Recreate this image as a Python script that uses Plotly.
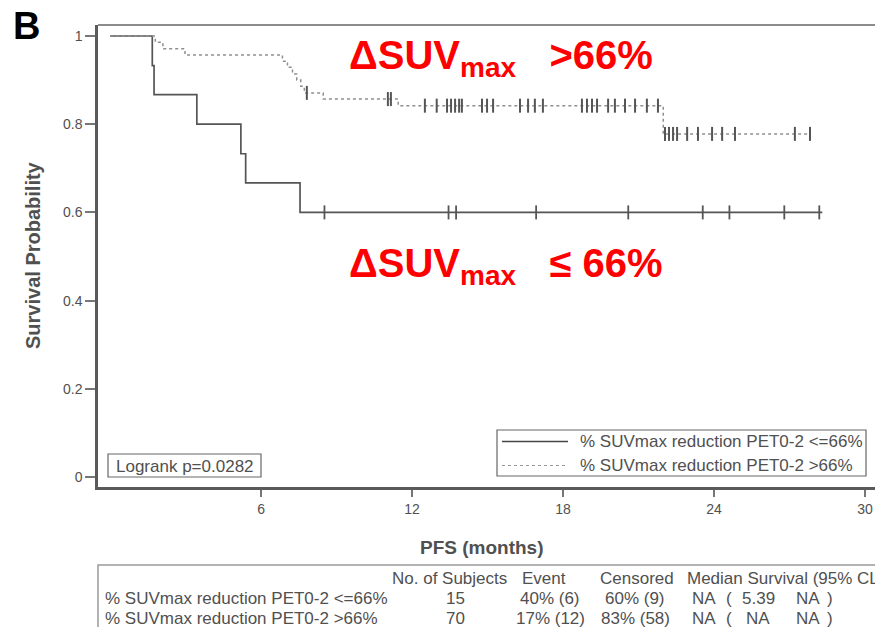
import numpy as np
import plotly.graph_objects as go

# ---------------- data ----------------
# Group 1: % SUVmax reduction PET0-2 <=66%  (solid)
low_event_t = [0.0, 1.68, 1.75, 3.45, 5.20, 5.39, 7.55]
low_event_s = [1.0, 0.933, 0.867, 0.800, 0.733, 0.667, 0.600]
low_end_t = 28.3
low_cens_t = [8.52, 13.45, 13.75, 16.93, 20.59, 23.55, 24.61, 26.79, 28.18]

# Group 2: % SUVmax reduction PET0-2 >66%  (dotted)
high_event_t = [0.0, 1.80, 2.10, 2.98, 6.85, 7.05, 7.25, 7.42, 7.58, 7.72,
                8.47, 11.45, 21.98]
high_event_s = [1.0, 0.986, 0.971, 0.957, 0.943, 0.929, 0.914, 0.900, 0.886,
                0.871, 0.857, 0.842, 0.778]
high_end_t = 27.85
high_cens_t = [7.82, 11.04, 11.16,
               12.51, 12.98, 13.39, 13.55, 13.71, 13.87, 13.98, 14.78, 14.98,
               15.22, 16.29, 16.61, 16.88, 17.20, 18.75, 18.95, 19.15, 19.35,
               19.79, 20.06, 20.46, 20.86, 21.33, 21.77,
               22.05, 22.21, 22.37, 22.53, 22.93, 23.36, 23.92, 24.32, 24.83,
               27.21, 27.81]

x_ticks = [6, 12, 18, 24, 30]
y_ticks = [0, 0.2, 0.4, 0.6, 0.8, 1]
y_tick_labels = ["0", "0.2", "0.4", "0.6", "0.8", "1"]

legend_labels = ["% SUVmax reduction PET0-2 <=66%", "% SUVmax reduction PET0-2 >66%"]
logrank_text = "Logrank p=0.0282"

table_header = ["No. of Subjects", "Event", "Censored", "Median Survival (95% CL"]
row_names = ["% SUVmax reduction PET0-2 <=66%", "% SUVmax reduction PET0-2 >66%"]
n_subjects = ["15", "70"]
events = ["40% (6)", "17% (12)"]
censored = ["60% (9)", "83% (58)"]
median = ["NA", "NA"]
ci_low = ["5.39", "NA"]
ci_high = ["NA", "NA"]


def step_value(times, surv, t):
    idx = np.searchsorted(np.array(times), t, side="right") - 1
    return [surv[i] for i in idx]


W, H = 875, 627
L, T, R = 98, 25, 0
B = H - 487
PW, PH = W - L - R, H - T - B


def px(xp):
    return (xp - L) / PW


def py(yp):
    return (H - B - yp) / PH


FONT = "Arial, Liberation Sans, sans-serif"
TXT = "#505050"
fig = go.Figure()

# curves
fig.add_trace(go.Scatter(
    x=low_event_t + [low_end_t], y=low_event_s + [low_event_s[-1]],
    mode="lines", line=dict(color="#555555", width=1.7, shape="hv"),
    showlegend=False, hoverinfo="skip"))
fig.add_trace(go.Scatter(
    x=high_event_t + [high_end_t], y=high_event_s + [high_event_s[-1]],
    mode="lines", line=dict(color="#8f8f8f", width=1.5, shape="hv", dash="dot"),
    showlegend=False, hoverinfo="skip"))
# censor marks
fig.add_trace(go.Scatter(
    x=low_cens_t, y=step_value(low_event_t, low_event_s, low_cens_t),
    mode="markers",
    marker=dict(symbol="line-ns-open", size=10, color="#555555",
                line=dict(color="#555555", width=1.8)),
    showlegend=False, hoverinfo="skip"))
fig.add_trace(go.Scatter(
    x=high_cens_t, y=step_value(high_event_t, high_event_s, high_cens_t),
    mode="markers",
    marker=dict(symbol="line-ns-open", size=10, color="#555555",
                line=dict(color="#555555", width=2)),
    showlegend=False, hoverinfo="skip"))

x0 = (98 - 110) / 25.17
x1 = (875 - 110) / 25.17
y0 = (477 - 487) / 441
y1 = (477 - 25) / 441

fig.update_xaxes(range=[x0, x1], tickvals=x_ticks, ticktext=[str(v) for v in x_ticks],
                 showgrid=False, zeroline=False, showline=True, linecolor="#5a5a5a",
                 linewidth=2.5, ticks="outside", ticklen=7, tickwidth=1.5, tickcolor="#777",
                 tickfont=dict(family=FONT, size=14, color=TXT), mirror=False)
fig.update_yaxes(range=[y0, y1], tickvals=y_ticks, ticktext=y_tick_labels,
                 showgrid=False, zeroline=False, showline=True, linecolor="#5a5a5a",
                 linewidth=2.5, ticks="outside", ticklen=10, tickwidth=1.5, tickcolor="#777",
                 tickfont=dict(family=FONT, size=14, color=TXT))

shapes = []
# top frame line
shapes.append(dict(type="line", xref="paper", yref="paper", x0=0, x1=1, y0=1, y1=1,
                   line=dict(color="#8c8c8c", width=2)))
# legend box
shapes.append(dict(type="rect", xref="paper", yref="paper", x0=px(497), x1=px(866),
                   y0=py(476), y1=py(430), line=dict(color="#666", width=1.2), fillcolor="white"))
shapes.append(dict(type="line", xref="paper", yref="paper", x0=px(502), x1=px(568),
                   y0=py(441.5), y1=py(441.5), line=dict(color="#444", width=1.4)))
shapes.append(dict(type="line", xref="paper", yref="paper", x0=px(502), x1=px(568),
                   y0=py(465.5), y1=py(465.5), line=dict(color="#999", width=1.2, dash="dot")))
# logrank box
shapes.append(dict(type="rect", xref="paper", yref="paper", x0=px(108), x1=px(261),
                   y0=py(477), y1=py(454), line=dict(color="#666", width=1.2)))
# table box
shapes.append(dict(type="rect", xref="paper", yref="paper", x0=px(98), x1=px(880),
                   y0=py(640), y1=py(565), line=dict(color="#999", width=1.5)))

ann = []
ann.append(dict(text="<b>B</b>", x=px(26), y=py(26), xref="paper", yref="paper",
                xanchor="center", yanchor="middle", showarrow=False,
                font=dict(family=FONT, size=38, color="black")))
ann.append(dict(text="<b>\u0394SUV<sub>max</sub>\u00a0\u00a0\u00a0&gt;66%</b>", x=px(347), y=py(58),
                xref="paper", yref="paper", xanchor="left", yanchor="middle", showarrow=False,
                font=dict(family=FONT, size=40, color="#ff0000")))
ann.append(dict(text="<b>\u0394SUV<sub>max</sub>\u00a0\u00a0\u00a0\u2264 66%</b>", x=px(347), y=py(266),
                xref="paper", yref="paper", xanchor="left", yanchor="middle", showarrow=False,
                font=dict(family=FONT, size=40, color="#ff0000")))
ann.append(dict(text="<b>Survival Probability</b>", x=px(33), y=py(255), xref="paper",
                yref="paper", textangle=-90, showarrow=False, xanchor="center", yanchor="middle",
                font=dict(family=FONT, size=20, color=TXT)))
ann.append(dict(text="<b>PFS (months)</b>", x=px(482), y=py(547), xref="paper", yref="paper",
                showarrow=False, xanchor="center", yanchor="middle",
                font=dict(family=FONT, size=19, color=TXT)))

SMALL = 17
for lab, yy in zip(legend_labels, [441.5, 465.5]):
    ann.append(dict(text=lab.replace("<", "&lt;").replace(">", "&gt;"), x=px(578), y=py(yy),
                    xref="paper", yref="paper", xanchor="left", yanchor="middle",
                    showarrow=False, font=dict(family=FONT, size=SMALL, color=TXT)))
ann.append(dict(text=logrank_text, x=px(114), y=py(466), xref="paper", yref="paper",
                xanchor="left", yanchor="middle", showarrow=False,
                font=dict(family=FONT, size=SMALL, color=TXT)))


def cell(text, xx, yy, anchor):
    ann.append(dict(text=text.replace("<", "&lt;").replace(">", "&gt;"), x=px(xx), y=py(yy),
                    xref="paper", yref="paper", xanchor=anchor, yanchor="middle",
                    showarrow=False, font=dict(family=FONT, size=SMALL, color=TXT)))


# table header
for h, xx in zip(table_header, [390, 520, 598, 685]):
    cell(h, xx, 578, "left")
# table rows
for i, yy in enumerate([598, 618]):
    cell(row_names[i], 103, yy, "left")
    cell(n_subjects[i], 455, yy, "center")
    cell(events[i], 550, yy, "center")
    cell(censored[i], 635, yy, "center")
    cell(median[i], 704, yy, "center")
    cell("(", 729, yy, "center")
    cell(ci_low[i], 758, yy, "center")
    cell(ci_high[i], 808, yy, "center")
    cell(")", 830, yy, "center")

fig.update_layout(width=W, height=H, margin=dict(l=L, r=R, t=T, b=B),
                  plot_bgcolor="white", paper_bgcolor="white",
                  shapes=shapes, annotations=ann, showlegend=False)

# remove the default page margin so the 875x627 figure fills the window exactly
fig.write_html("out.html",
               config={"displayModeBar": False},
               post_script="document.body.style.margin='0';"
                           "document.body.style.overflow='hidden';")
